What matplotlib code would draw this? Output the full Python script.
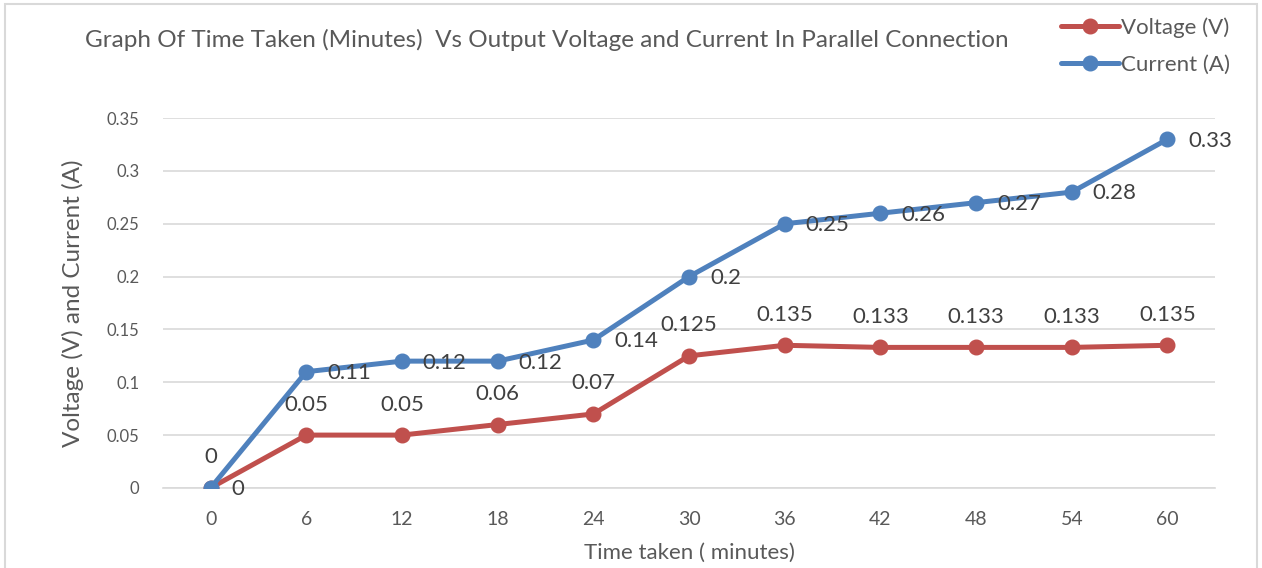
import matplotlib
matplotlib.use("Agg")
import matplotlib.pyplot as plt
from matplotlib.patches import Rectangle

minutes = ["0", "6", "12", "18", "24", "30", "36", "42", "48", "54", "60"]
voltage = [0, 0.05, 0.05, 0.06, 0.07, 0.125, 0.135, 0.133, 0.133, 0.133, 0.135]
current = [0, 0.11, 0.12, 0.12, 0.14, 0.2, 0.25, 0.26, 0.27, 0.28, 0.33]
voltage_labels = ["0", "0.05", "0.05", "0.06", "0.07", "0.125", "0.135", "0.133", "0.133", "0.133", "0.135"]
current_labels = ["0", "0.11", "0.12", "0.12", "0.14", "0.2", "0.25", "0.26", "0.27", "0.28", "0.33"]
y_ticks = [0, 0.05, 0.1, 0.15, 0.2, 0.25, 0.3, 0.35]
y_tick_labels = ["0", "0.05", "0.1", "0.15", "0.2", "0.25", "0.3", "0.35"]

plt.rcParams['font.family'] = ['Lato', 'DejaVu Sans']
text_col = "#595959"
red = "#C0504D"
blue = "#4F81BD"

fig = plt.figure(figsize=(12.62, 5.68), dpi=100)
fig.patches.append(Rectangle((0.004, -0.01), 0.992, 1.003, transform=fig.transFigure,
                             fill=False, edgecolor="#d9d9d9", linewidth=1.5))
ax = fig.add_axes([0.129, 0.141, 0.834, 0.651])

x = list(range(len(minutes)))
ax.plot(x, voltage, color=red, linewidth=3.6, marker="o", markersize=10.5,
        solid_capstyle="round", label="Voltage (V)", zorder=3)
ax.plot(x, current, color=blue, linewidth=3.6, marker="o", markersize=10.5,
        solid_capstyle="round", label="Current (A)", zorder=4)

for xi, v, lab in zip(x, voltage, voltage_labels):
    ax.annotate(lab, (xi, v), xytext=(0, 22), textcoords="offset points",
                ha="center", va="center", fontsize=16, color="#404040", zorder=5)
for xi, c, lab in zip(x, current, current_labels):
    ax.annotate(lab, (xi, c), xytext=(15, -1), textcoords="offset points",
                ha="left", va="center", fontsize=16, color="#404040", zorder=5)

ax.set_xlim(-0.5, len(minutes) - 0.5)
ax.set_ylim(0, 0.35)
ax.set_xticks(x)
ax.set_xticklabels(minutes)
ax.set_yticks(y_ticks)
ax.set_yticklabels(y_tick_labels)
ax.tick_params(axis="x", length=0, pad=16.5, labelsize=14, labelcolor=text_col)
ax.tick_params(axis="y", length=0, pad=17, labelsize=12, labelcolor=text_col)
ax.grid(axis="y", color="#d9d9d9", linewidth=1.2)
ax.set_axisbelow(True)
for side in ["top", "right", "left"]:
    ax.spines[side].set_visible(False)
ax.spines["bottom"].set_color("#d9d9d9")
ax.spines["bottom"].set_linewidth(1.2)
ax.spines["bottom"].set_zorder(1)

ax.set_xlabel("Time taken ( minutes)", fontsize=16, color=text_col, labelpad=11)
ax.set_ylabel("Voltage (V) and Current (A)", fontsize=17.5, color=text_col, labelpad=16)

fig.text(0.4335, 0.929, "Graph Of Time Taken (Minutes)  Vs Output Voltage and Current In Parallel Connection",
         ha="center", va="center", fontsize=17.5, color=text_col)

leg = fig.legend(loc="upper right", bbox_to_anchor=(0.982, 0.985), frameon=False,
                 fontsize=16, labelcolor=text_col, handlelength=2.6, handletextpad=0.1,
                 labelspacing=0.75, borderaxespad=0)

fig.savefig("out.png", dpi=100)
